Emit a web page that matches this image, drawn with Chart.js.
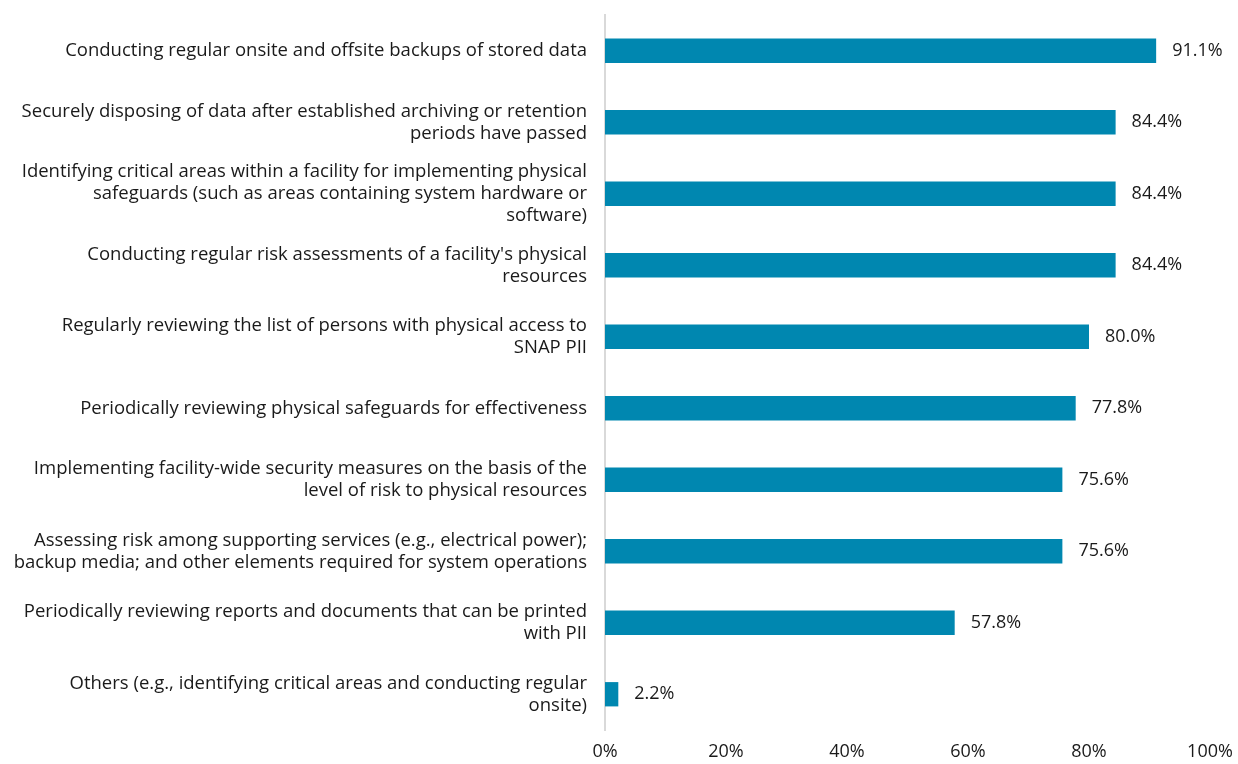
<!DOCTYPE html>
<html>
<head>
<meta charset="utf-8">
<script src="https://cdn.jsdelivr.net/npm/chart.js@4/dist/chart.umd.min.js"></script>
<style>
  html, body { margin: 0; padding: 0; background: #ffffff; }
  #wrap { width: 1238px; height: 764px; position: relative; }
</style>
</head>
<body>
<div id="wrap"><canvas id="chart" width="1238" height="764"></canvas></div>
<script>
// Physical safeguard practices (multi-line category labels)
const categories = [
  ["Conducting regular onsite and offsite backups of stored data"],
  ["Securely disposing of data after established archiving or retention", "periods have passed"],
  ["Identifying critical areas within a facility for implementing physical", "safeguards (such as areas containing system hardware or", "software)"],
  ["Conducting regular risk assessments of a facility's physical", "resources"],
  ["Regularly reviewing the list of persons with physical access to", "SNAP PII"],
  ["Periodically reviewing physical safeguards for effectiveness"],
  ["Implementing facility-wide security measures on the basis of the", "level of risk to physical resources"],
  ["Assessing risk among supporting services (e.g., electrical power);", "backup media; and other elements required for system operations"],
  ["Periodically reviewing reports and documents that can be printed", "with PII"],
  ["Others (e.g., identifying critical areas and conducting regular", "onsite)"]
];
const percentages = [91.1, 84.4, 84.4, 84.4, 80.0, 77.8, 75.6, 75.6, 57.8, 2.2];
const xTicks = [0, 20, 40, 60, 80, 100];

const FONT = "'Open Sans', Roboto, sans-serif";
const SIZE = 18;
const TEXT = "#1a1a1a";

// Draws the percentage value just right of each bar
const valueLabels = {
  id: 'valueLabels',
  afterDatasetsDraw(chart) {
    const ctx = chart.ctx;
    const meta = chart.getDatasetMeta(0);
    ctx.save();
    ctx.font = SIZE + "px " + FONT;
    ctx.fillStyle = TEXT;
    ctx.textAlign = 'left';
    ctx.textBaseline = 'middle';
    meta.data.forEach((bar, i) => {
      ctx.fillText(percentages[i].toFixed(1) + '%', bar.x + 16, bar.y);
    });
    ctx.restore();
  }
};

new Chart(document.getElementById('chart'), {
  type: 'bar',
  data: {
    labels: categories,
    datasets: [{
      data: percentages,
      backgroundColor: '#0087b0',
      borderWidth: 0,
      categoryPercentage: 1,
      barPercentage: 0.34
    }]
  },
  options: {
    indexAxis: 'y',
    responsive: false,
    animation: false,
    layout: { padding: { top: 15, right: 28, bottom: 0, left: 0 } },
    plugins: { legend: { display: false }, tooltip: { enabled: false } },
    scales: {
      x: {
        min: 0, max: 100,
        afterBuildTicks(scale) { scale.ticks = xTicks.map(v => ({ value: v })); },
        afterFit(scale) {
          scale.height = 34;
          scale.paddingLeft = 0;
          scale.paddingRight = 0;
        },
        grid: { display: false, drawTicks: false },
        border: { display: false },
        ticks: {
          padding: 11,
          color: TEXT,
          font: { family: FONT, size: SIZE },
          callback: v => v + '%'
        }
      },
      y: {
        afterFit(scale) {
          scale.width = 605;
          scale.paddingTop = 0;
          scale.paddingBottom = 0;
        },
        grid: { display: false, drawTicks: false },
        border: { display: true, color: '#d9d9d9', width: 2 },
        ticks: {
          autoSkip: false,
          padding: 18,
          color: TEXT,
          font: { family: FONT, size: 18.5, lineHeight: 1.19 }
        }
      }
    }
  },
  plugins: [valueLabels]
});
</script>
</body>
</html>
